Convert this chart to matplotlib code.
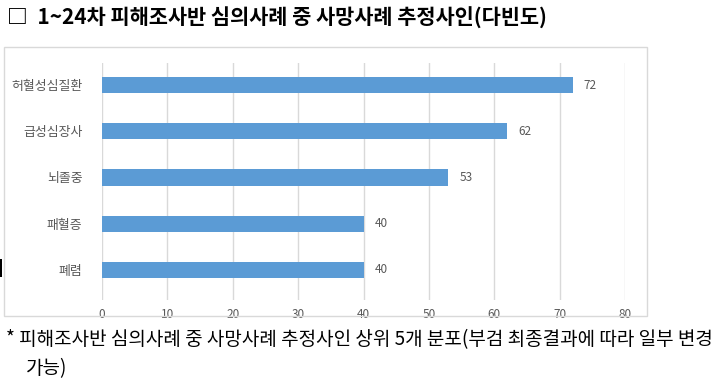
import matplotlib
matplotlib.use("Agg")
import matplotlib.pyplot as plt
from matplotlib.patches import Rectangle

plt.rcParams['font.family'] = ['Noto Sans CJK KR', 'DejaVu Sans']

categories = ['허혈성심질환', '급성심장사', '뇌졸중', '패혈증', '폐렴']
values = [72, 62, 53, 40, 40]
xticks = [0, 10, 20, 30, 40, 50, 60, 70, 80]
title = '□  1~24차 피해조사반 심의사례 중 사망사례 추정사인(다빈도)'
note1 = '* 피해조사반 심의사례 중 사망사례 추정사인 상위 5개 분포(부검 최종결과에 따라 일부 변경'
note2 = '가능)'

W, H = 715, 388
fig = plt.figure(figsize=(W / 100, H / 100), dpi=100)
fig.patch.set_facecolor('white')

# chart frame
fig.add_artist(Rectangle((4 / W, 1 - 316 / H), (647 - 4) / W, (316 - 47) / H,
                         transform=fig.transFigure, fill=False,
                         edgecolor='#D9D9D9', linewidth=1))
# small dark mark at left edge
fig.add_artist(Rectangle((0, 1 - 277 / H), 2 / W, 18 / H,
                         transform=fig.transFigure, facecolor='black',
                         edgecolor='none'))

ax = fig.add_axes([102 / W, 1 - 300 / H, (625 - 102) / W, (300 - 63) / H])
ypos = list(range(len(categories)))
ax.barh(ypos, values, height=0.35, color='#5B9BD5', zorder=3)
ax.set_xlim(0, 80)
ax.set_ylim(4.65, -0.476)
ax.set_xticks(xticks)
ax.set_xticklabels([str(t) for t in xticks])
ax.set_yticks(ypos)
ax.set_yticklabels(categories)
ax.grid(axis='x', color='#D9D9D9', linewidth=1, zorder=0)
for s in ax.spines.values():
    s.set_visible(False)
ax.tick_params(axis='both', length=0, colors='#595959', labelsize=8.5)
ax.tick_params(axis='y', pad=14, labelsize=9.3)
ax.tick_params(axis='x', pad=6)
for y, v in zip(ypos, values):
    ax.text(v + 1.7, y, str(v), va='center', ha='left', color='#595959', fontsize=8.5)

fig.text(7 / W, 1 - 18 / H, title, fontsize=15, fontweight='bold',
         va='center', ha='left', color='black')
fig.text(6 / W, 1 - 340 / H, note1, fontsize=13.7, va='center', ha='left', color='black')
fig.text(26 / W, 1 - 369 / H, note2, fontsize=13.7, va='center', ha='left', color='black')

fig.savefig('out.png', dpi=100, facecolor='white')
